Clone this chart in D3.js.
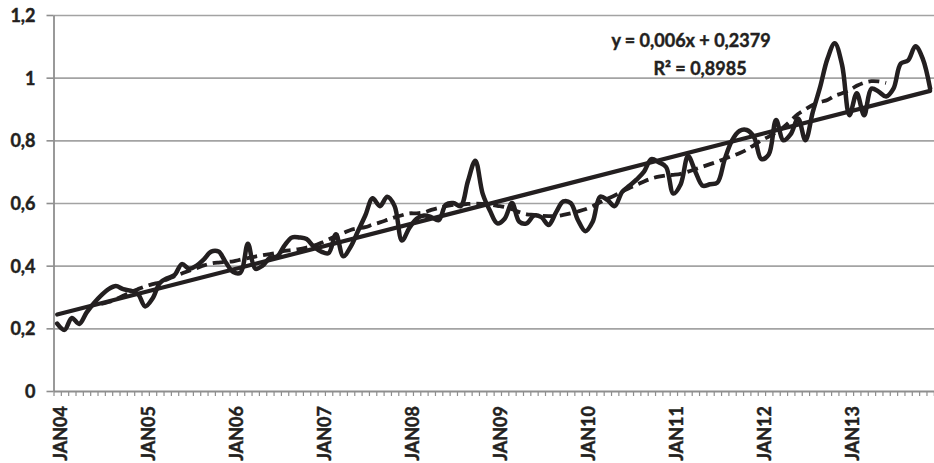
<!DOCTYPE html>
<html>
<head>
<meta charset="utf-8">
<script src="https://cdn.jsdelivr.net/npm/d3@7/dist/d3.min.js"></script>
<style>
  html, body { margin: 0; padding: 0; background: #ffffff; }
  svg { display: block; font-family: Lato, "Open Sans", "DejaVu Sans", sans-serif; }
</style>
</head>
<body>
<svg id="chart" width="934" height="463"></svg>
<script>
(function () {
// ---------- data ----------
const monthNames = ["JAN","FEB","MAR","APR","MAY","JUN","JUL","AUG","SEP","OCT","NOV","DEC"];
const years = ["04","05","06","07","08","09","10","11","12","13"];
const categories = years.flatMap(yy => monthNames.map(m => m + yy));

const values = [
  0.215,0.195,0.233,0.214,0.25,0.28,0.305,0.325,0.335,0.325,0.32,0.31,
  0.27,0.295,0.345,0.36,0.37,0.405,0.39,0.40,0.42,0.445,0.445,0.41,
  0.38,0.378,0.47,0.39,0.40,0.425,0.43,0.465,0.49,0.49,0.485,0.46,
  0.445,0.44,0.50,0.43,0.46,0.51,0.56,0.615,0.59,0.62,0.59,0.48,
  0.52,0.55,0.56,0.555,0.545,0.595,0.60,0.59,0.67,0.735,0.63,0.575,
  0.535,0.55,0.60,0.54,0.535,0.56,0.555,0.53,0.57,0.605,0.60,0.545,
  0.51,0.54,0.62,0.61,0.59,0.635,0.655,0.675,0.70,0.74,0.73,0.715,
  0.63,0.66,0.75,0.70,0.655,0.66,0.665,0.74,0.80,0.83,0.833,0.81,
  0.74,0.755,0.865,0.80,0.82,0.87,0.80,0.89,0.97,1.06,1.11,1.04,
  0.88,0.95,0.88,0.965,0.955,0.94,0.965,1.045,1.055,1.10,1.06,0.965
];

// centred 12-month moving average as drawn (dashed), months 7..114
const movingAvg = [
  null,null,null,null,null,null,
  0.278,0.284,0.293,0.304,0.315,0.325,0.334,0.341,0.347,0.356,
  0.366,0.375,0.384,0.392,0.401,0.407,0.410,0.412,0.414,0.419,
  0.424,0.429,0.433,0.437,0.441,0.447,0.450,0.453,0.458,0.464,
  0.473,0.484,0.495,0.504,0.514,0.519,0.523,0.531,0.538,0.546,
  0.554,0.561,0.567,0.567,0.570,0.578,0.584,0.590,0.594,0.595,
  0.597,0.598,0.597,0.595,0.591,0.587,0.580,0.571,0.564,0.562,
  0.559,0.558,0.558,0.562,0.567,0.573,0.580,0.590,0.602,0.613,
  0.624,0.636,0.648,0.658,0.669,0.678,0.684,0.688,0.690,0.693,
  0.700,0.708,0.716,0.724,0.732,0.741,0.750,0.759,0.770,0.785,
  0.800,0.812,0.825,0.842,0.863,0.884,0.899,0.913,0.922,0.929,
  0.942,0.950,0.960,0.974,0.984,0.989,0.988,0.983,
  null,null,null,null,null,null
];

const trendSlope = 0.006;
const trendIntercept = 0.2379;
const equationLines = ["y = 0,006x + 0,2379", "R\u00B2 = 0,8985"];

const yTickValues = [0, 0.2, 0.4, 0.6, 0.8, 1, 1.2];
const yTickLabels = ["0", "0,2", "0,4", "0,6", "0,8", "1", "1,2"];

// ---------- layout ----------
const W = 934;
const plotLeft = 53.5, plotRight = 933.8, plotTop = 15, plotBottom = 391;
const ink = "#231f20";
const gridColor = "#a3a3a3";
const axisColor = "#8e8e8e";

const svg = d3.select("#chart");

const x = d3.scaleBand().domain(categories).range([plotLeft, plotRight]).padding(0);
const cx = c => x(c) + x.bandwidth() / 2;
const xb = d3.scaleLinear().domain([0, categories.length]).range([plotLeft, plotRight]);
const y = d3.scaleLinear().domain([0, 1.2]).range([plotBottom, plotTop]);

const boldText = sel => sel
  .attr("fill", ink).attr("stroke", ink).attr("stroke-width", 0.45)
  .attr("font-size", 18).attr("font-weight", "bold")
  .attr("font-family", "Lato, sans-serif");

// gridlines
const grid = svg.append("g").attr("transform", `translate(${plotLeft},0)`)
  .call(d3.axisLeft(y).tickValues(yTickValues.filter(v => v > 0))
    .tickSize(-(W - plotLeft)).tickFormat(""));
grid.select(".domain").remove();
grid.selectAll(".tick line").attr("stroke", gridColor).attr("stroke-width", 1.6);

// y axis with outward ticks and labels
const yAxis = svg.append("g").attr("transform", `translate(${plotLeft},0)`)
  .call(d3.axisLeft(y).tickValues(yTickValues).tickSize(7).tickSizeOuter(0).tickPadding(11)
    .tickFormat((d, i) => yTickLabels[i]));
yAxis.select(".domain").attr("stroke", axisColor).attr("stroke-width", 1.8);
yAxis.selectAll(".tick line").attr("stroke", axisColor).attr("stroke-width", 1.6);
yAxis.selectAll(".tick text").call(boldText).attr("dy", "0.36em");

// x axis line with month ticks
const xAxis = svg.append("g").attr("transform", `translate(0,${plotBottom})`)
  .call(d3.axisBottom(xb).tickValues(d3.range(categories.length + 1)).tickSize(5).tickSizeOuter(0).tickFormat(""));
xAxis.select(".domain").attr("stroke", axisColor).attr("stroke-width", 1.8);
xAxis.selectAll(".tick line").attr("stroke", axisColor).attr("stroke-width", 1.2);

// year labels (rotated)
svg.append("g").selectAll("text")
  .data(categories.filter(c => c.startsWith("JAN")))
  .join("text")
  .attr("transform", c => `translate(${cx(c) + 9.5},406) rotate(-90)`)
  .attr("text-anchor", "end")
  .call(boldText)
  .text(c => c);

// data line (smoothed)
const line = d3.line()
  .defined(d => d.v != null)
  .x(d => cx(d.c)).y(d => y(d.v))
  .curve(d3.curveCatmullRom.alpha(0.5));

svg.append("path")
  .datum(categories.map((c, i) => ({ c, v: values[i] })))
  .attr("d", line)
  .attr("fill", "none").attr("stroke", ink).attr("stroke-width", 4.5)
  .attr("stroke-linejoin", "round").attr("stroke-linecap", "round");

// moving average (dashed)
svg.append("path")
  .datum(categories.map((c, i) => ({ c, v: movingAvg[i] })))
  .attr("d", line)
  .attr("fill", "none").attr("stroke", ink).attr("stroke-width", 3.8)
  .attr("stroke-dasharray", "11,6");

// linear trend
const first = categories[0], last = categories[categories.length - 1];
svg.append("line")
  .attr("x1", cx(first)).attr("y1", y(trendSlope * 1 + trendIntercept))
  .attr("x2", cx(last)).attr("y2", y(trendSlope * categories.length + trendIntercept))
  .attr("stroke", ink).attr("stroke-width", 4.2).attr("stroke-linecap", "round");

// equation label
svg.append("text").attr("x", 691).attr("y", 47).attr("text-anchor", "middle")
  .call(boldText).text(equationLines[0]);
svg.append("text").attr("x", 700).attr("y", 75).attr("text-anchor", "middle")
  .call(boldText).text(equationLines[1]);
})();
</script>
</body>
</html>
